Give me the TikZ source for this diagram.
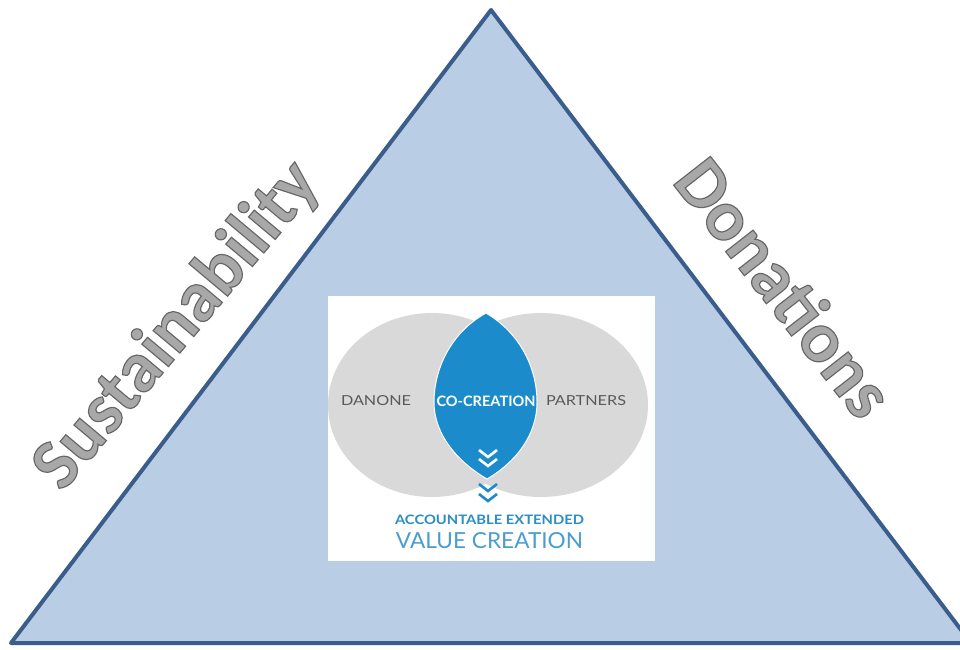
\documentclass[tikz,border=0pt]{standalone}
\usepackage{fontspec}
\setmainfont{Carlito}
\newfontfamily\vennfont{Lato}
\newfontfamily\wordfont{Carlito Bold}[FakeBold = 1.6]
\usepackage{graphicx}

\definecolor{trifill}{HTML}{B9CDE5}
\definecolor{triedge}{HTML}{3A5D8B}
\definecolor{venngray}{HTML}{D9D9D9}
\definecolor{lensblue}{HTML}{1B8BCB}
\definecolor{textblue}{HTML}{2A8DC6}
\definecolor{labelgray}{HTML}{595959}

% Light grey fill with a darker grey outline for the side words.
\newcommand{\outlined}[1]{\special{pdf:bcolor [0.66] [0.40]}#1\special{pdf:ecolor}}

\begin{document}
\begin{tikzpicture}[x = 1pt, y = -1pt,
    word/.style = {font = \wordfont\fontsize{72}{72}\selectfont, inner sep = 0pt},
    venntext/.style = {font = \vennfont, inner sep = 0pt},
    chevron/.style = {line width = 2.6pt, line cap = butt, line join = miter}]

        % Fix the page to the size of the picture.
        \useasboundingbox (0, 0) rectangle (960, 649);
        \clip (0, 0) rectangle (960, 649);

        % Corners of the big triangle.
        \coordinate (TOP) at (491, 10);
        \coordinate (LEFT) at (11, 643);
        \coordinate (RIGHT) at (971, 643);

        % The triangle itself.
        \draw[line width = 4pt, triedge, fill = trifill, line join = round]
            (LEFT) -- (TOP) -- (RIGHT) -- cycle;

        % White panel behind the Venn picture.
        \node[fill = white, minimum width = 327pt, minimum height = 265pt, inner sep = 0pt]
            (panel) at (491.5, 428.5) {};

        % Centres of the two circles.
        \coordinate (DC) at (432, 405);
        \coordinate (PC) at (541, 405);

        % Grey circles.
        \fill[venngray] (DC) ellipse [x radius = 104pt, y radius = 92pt];
        \fill[venngray] (PC) ellipse [x radius = 107pt, y radius = 92pt];

        % Blue lens in the middle, pointed at top and bottom.
        \coordinate (LTOP) at (486, 313);
        \coordinate (LBOT) at (487, 479);
        \filldraw[lensblue, draw = white, line width = 1pt]
            (LTOP) .. controls (450, 333) and (434, 370) .. (434, 402)
                   .. controls (434, 435) and (458, 462) .. (LBOT)
                   .. controls (516, 462) and (537, 435) .. (537, 402)
                   .. controls (537, 368) and (520, 333) .. (LTOP) -- cycle;

        % Labels inside the circles.
        \node[venntext, text = labelgray] (danone) at (376, 401)
            {\resizebox{70pt}{10pt}{DANONE}};
        \node[venntext, text = white] (cocreation) at (486, 401)
            {\resizebox{99pt}{10.5pt}{\bfseries CO-CREATION}};
        \node[venntext, text = labelgray] (partners) at (586, 401)
            {\resizebox{80pt}{10pt}{PARTNERS}};

        % Double chevrons, white on the lens and blue below it.
        \foreach \y in {450, 459}{
            \draw[chevron, white] (479, \y) -- (488, \y + 7) -- (497, \y);
        }
        \foreach \y in {484, 494}{
            \draw[chevron, lensblue] (479, \y) -- (488, \y + 7) -- (497, \y);
        }

        % Caption under the circles.
        \node[venntext, text = textblue] (accountable) at (489.5, 520)
            {\resizebox{189pt}{9.5pt}{\bfseries ACCOUNTABLE EXTENDED}};
        \node[venntext, text = textblue!85!white] (valuecreation) at (489.5, 541)
            {\resizebox{187pt}{16pt}{VALUE CREATION}};

        % The two words along the sides.
        \node[word, rotate = 50] (sustain) at (177, 326) {\outlined{Sustainability}};
        \node[word, rotate = -52] (donate) at (785, 287) {\outlined{Donations}};
    \end{tikzpicture}
\end{document}
